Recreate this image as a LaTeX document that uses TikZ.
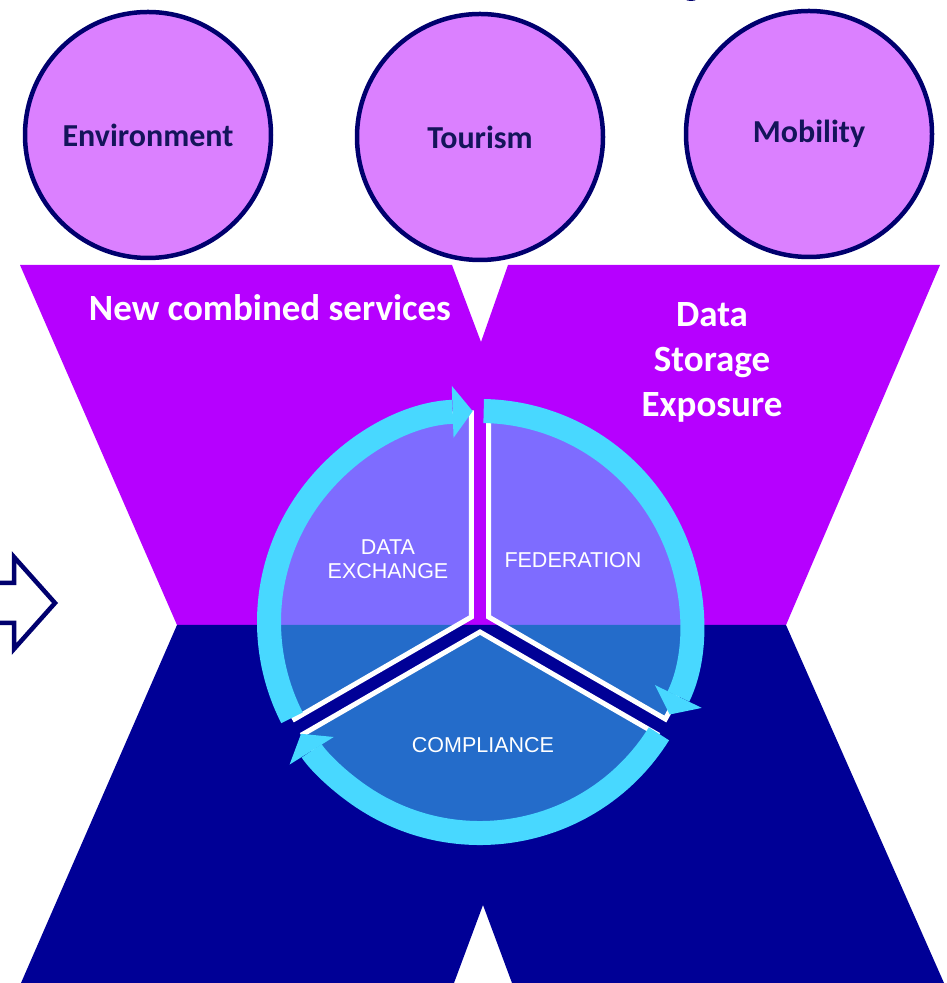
\documentclass[tikz,border=0pt]{standalone}
\usepackage{fontspec}
\setmainfont{Carlito}
\newfontfamily\arialfont{Liberation Sans}
\usetikzlibrary{arrows.meta}
\definecolor{bgpurple}{RGB}{182,0,255}
\definecolor{bgnavy}{RGB}{0,0,150}
\definecolor{lilac}{RGB}{219,128,255}
\definecolor{inkblue}{RGB}{0,0,110}
\definecolor{labelblue}{RGB}{20,20,90}
\definecolor{ringcyan}{RGB}{72,216,255}

\begin{document}
\begin{tikzpicture}[x=1pt,y=1pt]

\tikzset{topic/.style = {shape=circle,draw=inkblue,line width=4.5pt,fill=lilac,minimum size=246pt,inner sep=0pt,text=labelblue,font=\bfseries\fontsize{32}{38}\selectfont}}
\tikzset{sector/.style = {fill=ringcyan,fill opacity=0.5,draw=white,line width=5pt,line join=miter}}
\tikzset{ringarrow/.style = {-{Triangle[length=20pt,width=52pt,line width=0pt]},draw=ringcyan,line width=24pt}}
\tikzset{pielabel/.style = {text=white,align=center,font=\arialfont\fontsize{21.5}{24}\selectfont}}
\tikzset{banner/.style = {text=white,align=center,font=\bfseries\fontsize{37}{45}\selectfont}}

\useasboundingbox (0,0) rectangle (947,983);
% backgrounds
\fill[bgpurple] (20,718) -- (452,718) -- (481,641) -- (508,718) -- (940,718) -- (786,358) -- (177,358) -- cycle;
\fill[bgnavy] (177,358) -- (786,358) -- (944,0) -- (512,0) -- (483,78) -- (454,0) -- (21,0) -- cycle;
\fill[inkblue] (691,988) ellipse [x radius=9, y radius=6];
\draw[inkblue,line width=4.5pt,line join=miter] (-10,400) -- (14,400) -- (14,426) -- (55,380) -- (14,334) -- (14,360) -- (-10,360);

% topics
\node[topic] (env)  at (148,848) {Environment};
\node[topic] (tour) at (480,846) {Tourism};
\node[topic] (mob)  at (809,849) {Mobility};

\node[banner] (combined) at (270,675) {New combined services};
\node[banner] (storage)  at (712,621) {Data\\Storage\\Exposure};

% pie
\coordinate (c) at (480,361);
\draw[sector] ([shift={(150:10)}]c) -- ++(90:204) arc[start angle=90,end angle=210,radius=204] -- cycle;
\draw[sector] ([shift={(30:10)}]c) -- ++(-30:204) arc[start angle=-30,end angle=90,radius=204] -- cycle;
\draw[sector] ([shift={(270:10)}]c) -- ++(210:204) arc[start angle=210,end angle=330,radius=204] -- cycle;

% cycle
\draw[ringarrow] ([shift={(207:211)}]c) arc[start angle=207,end angle=92,radius=211];
\draw[ringarrow] ([shift={(89:211)}]c) arc[start angle=89,end angle=-26,radius=211];
\draw[ringarrow] ([shift={(-32:211)}]c) arc[start angle=-32,end angle=-148,radius=211];

\node[pielabel] (exchange)   at (388,424) {DATA\\EXCHANGE};
\node[pielabel] (federation) at (573,423) {FEDERATION};
\node[pielabel] (compliance) at (483,238) {COMPLIANCE};
\end{tikzpicture}
\end{document}
